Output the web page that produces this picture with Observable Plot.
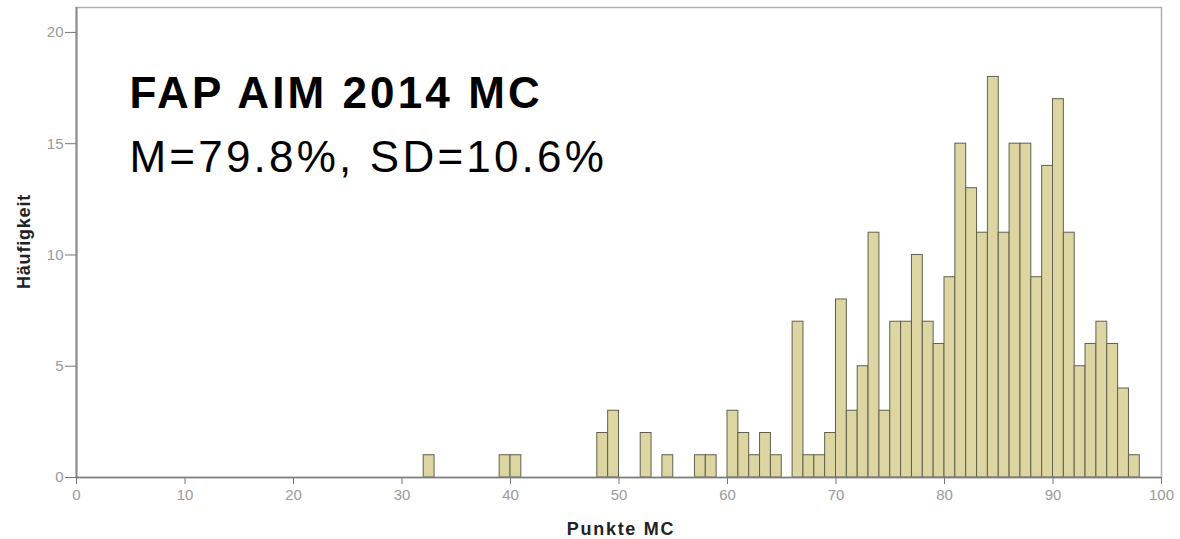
<!DOCTYPE html>
<html>
<head>
<meta charset="utf-8">
<script src="https://cdn.jsdelivr.net/npm/d3@7"></script>
<script src="https://cdn.jsdelivr.net/npm/@observablehq/plot@0.6"></script>
<style>
  html, body { margin: 0; padding: 0; background: #fff; }
  #chart svg { display: block; }
</style>
</head>
<body>
<div id="chart"></div>
<script>
// Bin start (Punkte MC, %) and frequency (Häufigkeit)
const binStarts = [32, 39, 40, 48, 49, 52, 54, 57, 58, 60, 61, 62, 63, 64,
  66, 67, 68, 69, 70, 71, 72, 73, 74, 75, 76, 77, 78, 79, 80, 81, 82, 83,
  84, 85, 86, 87, 88, 89, 90, 91, 92, 93, 94, 95, 96, 97];
const counts = [1, 1, 1, 2, 3, 2, 1, 1, 1, 3, 2, 1, 2, 1,
  7, 1, 1, 2, 8, 3, 5, 11, 3, 7, 7, 10, 7, 6, 9, 15, 13, 11,
  18, 11, 15, 15, 9, 14, 17, 11, 5, 6, 7, 6, 4, 1];
const binWidth = 1;
const xTicks = [0, 10, 20, 30, 40, 50, 60, 70, 80, 90, 100];
const yTicks = [0, 5, 10, 15, 20];
const titleText = "FAP AIM 2014 MC";
const subtitleText = "M=79.8%, SD=10.6%";
const xLabel = "Punkte MC";
const yLabel = "Häufigkeit";

const data = binStarts.map((b, i) => ({start: b, end: b + binWidth, count: counts[i]}));

const chart = Plot.plot({
  width: 1180,
  height: 539,
  marginLeft: 76,
  marginRight: 19,
  marginTop: 7,
  marginBottom: 62,
  style: {fontFamily: "'Liberation Sans', Arial, sans-serif", background: "#fff"},
  x: {domain: [0, 100], axis: null},
  y: {domain: [0, 21.12], axis: null},
  marks: [
    Plot.rectY(data, {x1: "start", x2: "end", y: "count", fill: "#ddd6a3", stroke: "#60604c", strokeWidth: 1, inset: 0}),
    Plot.frame({stroke: "#b0b0b0", strokeWidth: 1.5}),
    Plot.ruleX([0], {stroke: "#8a8a8a", strokeWidth: 2}),
    Plot.ruleY([0], {stroke: "#7a7a7a", strokeWidth: 1.5}),
    Plot.axisX({ticks: xTicks, tickSize: 7, tickPadding: 5, fontSize: 15, stroke: "#777", fill: "#9a9a9a", label: null, tickFormat: d => String(d)}),
    Plot.axisY({ticks: yTicks, tickSize: 11, tickPadding: 2, fontSize: 15, stroke: "#777", fill: "#9a9a9a", label: null, tickFormat: d => String(d)}),
    Plot.text([xLabel], {frameAnchor: "bottom", textAnchor: "middle", lineAnchor: "bottom", dx: 2, dy: 57, text: d => d, fontWeight: "bold", fontSize: 18, fill: "#222"}),
    Plot.text([yLabel], {frameAnchor: "left", textAnchor: "middle", lineAnchor: "middle", dx: -52, dy: -1, rotate: -90, text: d => d, fontWeight: "bold", fontSize: 18, fill: "#222"}),
    Plot.text([titleText], {frameAnchor: "top-left", textAnchor: "start", lineAnchor: "bottom", dx: 53, dy: 100, text: d => d, fontWeight: "bold", fontSize: 44, fill: "#000"}),
    Plot.text([subtitleText], {frameAnchor: "top-left", textAnchor: "start", lineAnchor: "bottom", dx: 53, dy: 164, text: d => d, fontSize: 44, fill: "#000"})
  ]
});

const spacing = {[titleText]: "3.1px", [subtitleText]: "3.2px", [xLabel]: "1.7px", [yLabel]: "0.8px"};
d3.select(chart).selectAll("text").each(function() {
  const s = spacing[this.textContent];
  if (s) this.setAttribute("letter-spacing", s);
});

document.getElementById("chart").appendChild(chart);
</script>
</body>
</html>
